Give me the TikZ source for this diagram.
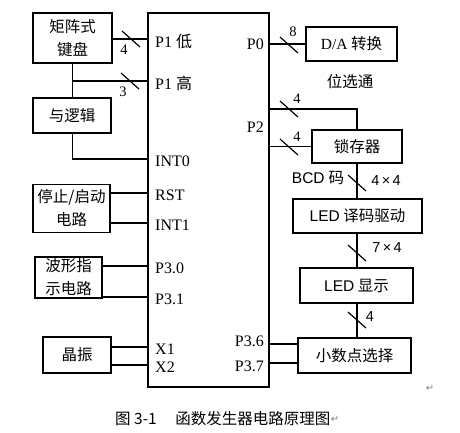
\documentclass[tikz,border=0pt]{standalone}
\usepackage{fontspec}
\setmainfont{Liberation Serif}
\setsansfont{Liberation Sans}
\newfontfamily\cjk{Noto Sans CJK SC}
\newfontfamily\sym{DejaVu Sans}
\usetikzlibrary{positioning,calc}
\newcommand{\zh}[1]{{\cjk #1}}
\newcommand{\bus}[1]{\draw [wire] ([shift={(-9,-8)}]#1) -- ([shift={(9,8)}]#1);}

\begin{document}
\begin{tikzpicture}[x=1pt, y=-1pt,
        box/.style={rectangle, draw, line width=1.5pt, align=center, inner sep=0pt, font=\cjk\fontsize{15.5}{23}\selectfont},
        wire/.style={draw, line width=1.2pt},
        pinl/.style={anchor=west, inner sep=0pt, xshift=7pt, yshift=-2pt, font=\fontsize{16}{18}\selectfont},
        pinr/.style={anchor=east, inner sep=0pt, xshift=-5pt, font=\fontsize{16}{18}\selectfont},
        num/.style={inner sep=0pt, font=\fontsize{14.5}{16}\selectfont}]

        \useasboundingbox (0,0) rectangle (460,432);

        % chip
        \node [draw, line width=1.2pt, minimum width=121pt, minimum height=374pt] (chip) at (208.5,200) {};

        % left side
        \node [box, minimum width=79pt, minimum height=50pt] (kbd) at (72.5,38) {矩阵式\\键盘};
        \node [box, minimum width=78pt, minimum height=35pt] (andl) at (72,115.5) {与逻辑};
        \node [box, minimum width=77pt, minimum height=48pt] (stop) at (71.5,208.5) {停止/启动\\电路};
        \node [box, minimum width=67pt, minimum height=41pt] (wave) at (68.5,277.5) {波形指\\示电路};
        \node [box, minimum width=68pt, minimum height=36pt] (osc) at (77,355) {晶振};

        % right side
        \node [box, minimum width=91pt, minimum height=34pt] (da) at (351.5,44) {{\rmfamily D/A} 转换};
        \node [box, minimum width=90pt, minimum height=33pt] (latch) at (357,146.5) {锁存器};
        \node [box, minimum width=129pt, minimum height=34pt] (dec) at (357.5,216) {{\sffamily LED} 译码驱动};
        \node [box, minimum width=113pt, minimum height=35pt] (disp) at (356.5,285.5) {{\sffamily LED} 显示};
        \node [box, minimum width=113pt, minimum height=35pt] (dp) at (354.5,355.5) {小数点选择};

        % pins
        \coordinate (p1l) at (148,39);
        \coordinate (p1h) at (148,81);
        \coordinate (int0) at (148,159);
        \coordinate (rst) at (148,193);
        \coordinate (int1) at (148,223);
        \coordinate (p30) at (148,266);
        \coordinate (p31) at (148,297);
        \coordinate (x1) at (148,347);
        \coordinate (x2) at (148,365);
        \coordinate (p0) at (269,44);
        \coordinate (p2) at (269,127);
        \coordinate (p2a) at (269,109);
        \coordinate (p2b) at (269,146.5);
        \coordinate (p36) at (269,344);
        \coordinate (p37) at (269,363);

        \node [pinl] at (p1l) {P1 \zh{低}};
        \node [pinl] at (p1h) {P1 \zh{高}};
        \node [pinl] at (int0) {INT0};
        \node [pinl] at (rst) {RST};
        \node [pinl] at (int1) {INT1};
        \node [pinl] at (p30) {P3.0};
        \node [pinl] at (p31) {P3.1};
        \node [pinl] at (x1) {X1};
        \node [pinl] at (x2) {X2};
        \node [pinr] at (p0) {P0};
        \node [pinr] at (p2) {P2};
        \node [pinr, yshift=3pt] at (p36) {P3.6};
        \node [pinr, yshift=-3pt] at (p37) {P3.7};

        % wires left
        \draw [wire] (kbd.east |- p1l) -- (p1l);
        \draw [wire] (kbd.south) -- (kbd.south |- andl.north);
        \draw [wire] (kbd.south |- p1h) -- (p1h);
        \draw [wire] (kbd.south |- andl.south) |- (int0);
        \draw [wire] (stop.east |- rst) -- (rst);
        \draw [wire] (stop.east |- int1) -- (int1);
        \draw [wire] (wave.east |- p30) -- (p30);
        \draw [wire] (wave.east |- p31) -- (p31);
        \draw [wire] (osc.east |- x1) -- (x1);
        \draw [wire] (osc.east |- x2) -- (x2);

        % wires right
        \draw [wire] (p0) -- (da.west |- p0);
        \draw [wire] (p2a) -| (latch.north);
        \draw [wire] (p2b) -- (latch.west);
        \draw [wire] (latch.south) -- (latch.south |- dec.north);
        \draw [wire] (latch.south |- dec.south) -- (latch.south |- disp.north);
        \draw [wire] (latch.south |- disp.south) -- (latch.south |- dp.north);
        \draw [wire] (p36) -- (dp.west |- p36);
        \draw [wire] (p37) -- (dp.west |- p37);

        % bus marks
        \bus{131,39}
        \bus{130,81}
        \bus{289,45}
        \bus{289,109}
        \bus{289,147}
        \bus{357,183}
        \bus{357,253}
        \bus{357,320}
        \node [num] (n4a) at (124,50) {4};
        \node [num] (n3) at (123,92) {3};
        \node [num] (n8) at (293,32) {8};
        \node [num] (n4b) at (297,99) {4};
        \node [num] (n4c) at (297,137) {4};
        \node [num, font=\sffamily\fontsize{14.5}{16}\selectfont] (n44) at (386,181) {4\,×\,4};
        \node [num, font=\sffamily\fontsize{14.5}{16}\selectfont] (n74) at (387,248) {7\,×\,4};
        \node [num, font=\sffamily\fontsize{14.5}{16}\selectfont] (n4d) at (370,317) {4};

        % labels
        \node [inner sep=0pt, font=\cjk\fontsize{15.5}{18}\selectfont] (sel) at (350,82) {位选通};
        \node [inner sep=0pt, font=\fontsize{15.5}{18}\selectfont] (bcd) at (318,178) {{\sffamily BCD} \zh{码}};

        % caption
        \node [anchor=west, inner sep=0pt, font=\cjk\fontsize{15.5}{18}\selectfont] (cap) at (115,419) {图 3-1\hspace{1.2em}函数发生器电路原理图};
        \node [anchor=west, inner sep=0pt, text=gray, font=\sym\fontsize{10}{12}\selectfont] (ret) at (cap.east) {↵};
        \node [inner sep=0pt, text=gray, font=\sym\fontsize{10}{12}\selectfont] (ret2) at (430,388) {↵};

    \end{tikzpicture}
\end{document}
